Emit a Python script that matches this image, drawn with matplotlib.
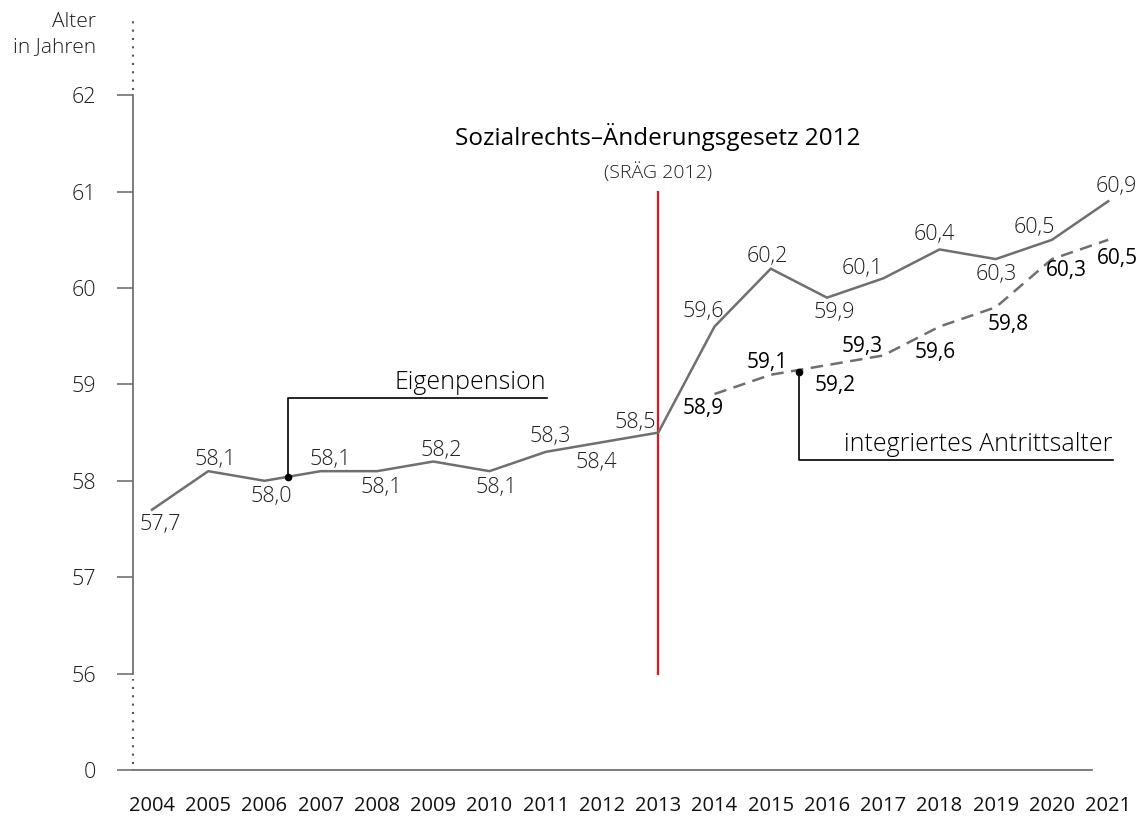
import matplotlib
matplotlib.use("Agg")
import matplotlib.pyplot as plt

plt.rcParams.update({"font.family": ["Open Sans", "DejaVu Sans"]})

years = list(range(2004, 2022))
eigen = [57.7, 58.1, 58.0, 58.1, 58.1, 58.2, 58.1, 58.3, 58.4, 58.5,
         59.6, 60.2, 59.9, 60.1, 60.4, 60.3, 60.5, 60.9]
integ_years = list(range(2014, 2022))
integ = [58.9, 59.1, 59.2, 59.3, 59.6, 59.8, 60.3, 60.5]

ytick_vals = [0, 56, 57, 58, 59, 60, 61, 62]

# label offsets in pixels (dx, dy) relative to each point
eigen_off = [(8, -15), (7, 12), (7, -16), (10, 12), (4, -16), (8, 11), (7, -16), (5, 15),
             (-6, -20), (-23, 10), (-11, 15), (-3, 12), (7, -15), (-21, 10), (-5, 15),
             (1, -15), (-18, 12), (8, 15)]
integ_off = [(-11, -14), (-3, 12), (8, -20), (-21, 9), (-4, -26), (12, -17), (14, -11), (9, -19)]

LINE = "#6f6f6f"
TXT = "#1e1e1e"
AX = "#666666"


def ymap(v):
    # broken axis: 0 is drawn one unit below 56
    return 55 if v == 0 else v


fig = plt.figure(figsize=(11.46, 8.17), dpi=100, facecolor="white")
px_x, px_y = 56.25, 96.4
x0 = 2004 - 19 / px_x
ax = fig.add_axes([133 / 1146, 47 / 817, (1146 - 133) / 1146, 770 / 817])
ax.set_xlim(x0, 2004 + (1146 - 152) / px_x)
ax.set_ylim(55, 55 + 770 / px_y)

ax.plot(years, eigen, color=LINE, lw=1.8, solid_joinstyle="miter", zorder=3)
dl, = ax.plot(integ_years, integ, color=LINE, lw=1.8, zorder=3)
dl.set_dashes([5, 3])

for x, v, (dx, dy) in zip(years, eigen, eigen_off):
    ax.annotate(f"{v:.1f}".replace(".", ","), (x, v), xytext=(dx, dy), textcoords="offset pixels",
                ha="center", va="center", fontsize=15.5, color=TXT, fontweight="light")
for x, v, (dx, dy) in zip(integ_years, integ, integ_off):
    ax.annotate(f"{v:.1f}".replace(".", ","), (x, v), xytext=(dx, dy), textcoords="offset pixels",
                ha="center", va="center", fontsize=15, color="black")

# SRÄG 2012 marker
ax.plot([2013, 2013], [56, 61], color="#e3161f", lw=1.6, zorder=2)
ax.text(2013, 61.57, "Sozialrechts–Änderungsgesetz 2012", ha="center", va="center",
        fontsize=17.5, color="black")
ax.text(2013, 61.2, "(SRÄG 2012)", ha="center", va="center", fontsize=14, color=TXT,
        fontweight="light")

# callouts
ex, ey = 2006.42, 58.04
ax.plot([ex, ex, 2011.02], [ey, 58.86, 58.86], color="black", lw=1.2, zorder=4)
ax.plot(ex, ey, "o", color="black", ms=4.5, zorder=5)
ax.text(2011.0, 58.95, "Eigenpension", ha="right", va="baseline", fontsize=18, color="black",
        fontweight="light")

ix, iy = 2015.5, 59.13
ax.plot([ix, ix, 2021.08], [iy, 58.22, 58.22], color="black", lw=1.2, zorder=4)
ax.plot(ix, iy, "o", color="black", ms=4.5, zorder=5)
ax.text(2021.08, 58.31, "integriertes Antrittsalter", ha="right", va="baseline", fontsize=18,
        color="black", fontweight="light")

# axes styling
for s in ["top", "right"]:
    ax.spines[s].set_visible(False)
ax.spines["left"].set_bounds(56, 62)
ax.spines["bottom"].set_bounds(x0, 2004 + (1092 - 152) / px_x)
for s in ["left", "bottom"]:
    ax.spines[s].set_color(AX)
    ax.spines[s].set_linewidth(1.2)

ax.set_yticks([ymap(v) for v in ytick_vals])
ax.set_yticklabels([str(v) for v in ytick_vals])
ax.tick_params(axis="y", direction="out", length=11.5, width=1.1, color=AX, pad=15,
               labelsize=15.5, labelcolor=TXT)
for lab in ax.get_yticklabels():
    lab.set_fontweight("light")
ax.set_xticks(years)
ax.set_xticklabels([str(y) for y in years])
ax.tick_params(axis="x", length=0, pad=19, labelsize=14.5, labelcolor="#111111")

# dotted axis breaks
ax.plot([x0, x0], [62.05, 62.82], color="#555555", ls=(0, (1, 3)), lw=1.5, clip_on=False)
ax.plot([x0, x0], [55.06, 55.94], color="#555555", ls=(0, (1, 3)), lw=1.5, clip_on=False)

fig.text(96 / 1146, 1 - 22 / 817, "Alter", ha="right", va="center", fontsize=15,
         color=TXT, fontweight="light")
fig.text(96 / 1146, 1 - 47 / 817, "in Jahren", ha="right", va="center", fontsize=15,
         color=TXT, fontweight="light")

fig.savefig("out.png", dpi=100, facecolor="white")
